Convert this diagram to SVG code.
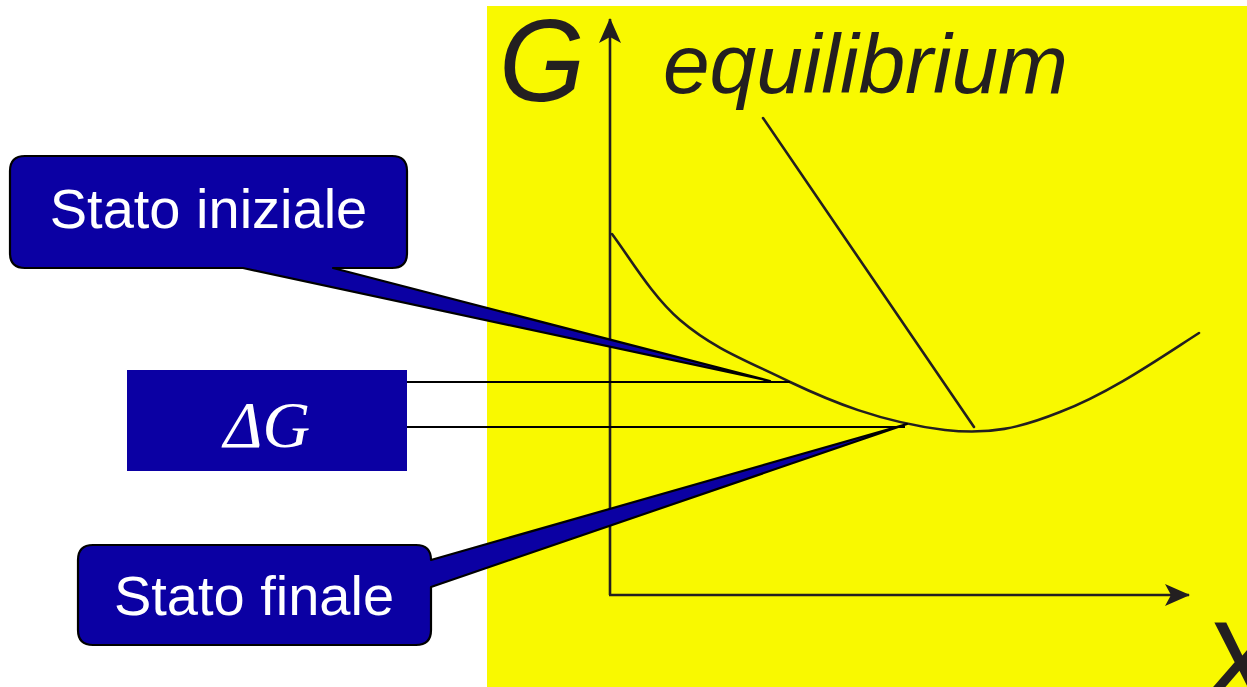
<svg xmlns="http://www.w3.org/2000/svg" width="1247" height="687" viewBox="0 0 1247 687">
<style>
.ax{stroke:#231f20;stroke-width:2.6;fill:none}
.crv{stroke:#231f20;stroke-width:2.6;fill:none;stroke-linecap:round}
.lead{stroke:#000;stroke-width:2.2;fill:none}
.call{fill:#0b00a3;stroke:#000;stroke-width:2.2;stroke-linejoin:round}
.lbl{font-family:"Liberation Sans",Arial,sans-serif;font-size:56px;fill:#fff;text-anchor:middle}
.big{font-family:"Liberation Sans",Arial,sans-serif;font-style:italic;fill:#231f20}
</style>
<defs>
<marker id="arr" markerUnits="userSpaceOnUse" viewBox="0 0 25 22" refX="24" refY="11" markerWidth="25" markerHeight="22" orient="auto">
<path d="M0,0 L25,11 L0,22 L6,11 Z" fill="#231f20"/>
</marker>
</defs>
<rect x="487" y="6" width="760" height="681" fill="#f9f900"/>
<g id="axes">
<line class="ax" x1="610" y1="595" x2="610" y2="19" marker-end="url(#arr)"/>
<line class="ax" x1="609" y1="595" x2="1189" y2="595" marker-end="url(#arr)"/>
<text class="big" x="499" y="101" font-size="116" textLength="86" lengthAdjust="spacingAndGlyphs">G</text>
<text class="big" x="1198" y="707" font-size="122">X</text>
</g>
<g id="curves">
<path class="crv" d="M612,234 C630,258 652,296 680,320 C715,350 750,362 790,382 C830,401 880,422 945,430 C990,435 1020,428 1060,412 C1110,393 1160,358 1199,333"/>
<line class="crv" x1="763" y1="118" x2="974" y2="427"/>
<text class="big" x="663" y="93" font-size="84" textLength="405" lengthAdjust="spacing">equilibrium</text>
</g>
<g id="connectors">
<line class="lead" x1="407" y1="382" x2="790" y2="382"/>
<line class="lead" x1="407" y1="427" x2="905" y2="427"/>
</g>
<g id="stato-iniziale">
<path class="call" d="M25,156 H392 Q407,156 407,171 V253 Q407,268 392,268 H333 L770,381 L243,268 H25 Q10,268 10,253 V171 Q10,156 25,156 Z"/>
<text class="lbl" x="208.5" y="228">Stato iniziale</text>
</g>
<g id="delta-g">
<rect x="127" y="370" width="280" height="101" fill="#0b00a3"/>
<text x="267" y="447" font-family="Liberation Serif,'Times New Roman',serif" font-style="italic" font-size="66" fill="#fff" text-anchor="middle">ΔG</text>
</g>
<g id="stato-finale">
<path class="call" d="M93,545 H416 Q431,545 431,560 L907,424 L431,587 V630 Q431,645 416,645 H93 Q78,645 78,630 V560 Q78,545 93,545 Z"/>
<text class="lbl" x="254" y="615">Stato finale</text>
</g>
</svg>
